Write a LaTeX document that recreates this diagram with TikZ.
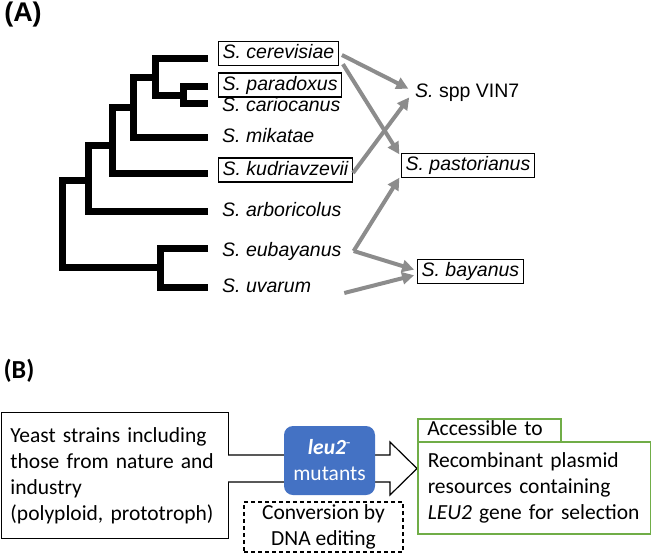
\documentclass[tikz,border=0pt]{standalone}
\usepackage{fontspec}
\setmainfont{Liberation Sans}
\newfontfamily\carfont{Carlito}
\usetikzlibrary{arrows.meta}
\definecolor{arrgray}{RGB}{140,140,140}
\definecolor{bluebox}{RGB}{68,114,196}
\definecolor{greenbox}{RGB}{112,173,71}
\begin{document}
\begin{tikzpicture}[x=1pt,y=-1pt,
  tree/.style={line width=7pt, line join=miter, line cap=butt},
  sp/.style={anchor=west, font=\fontsize{19.5}{22}\selectfont\itshape, inner xsep=4pt, inner ysep=2.5pt, text height=14.5pt, text depth=4.5pt},
  boxed/.style={draw, line width=1.3pt},
  garr/.style={draw=arrgray, line width=4pt, -{Triangle[length=12pt,width=12pt]}, shorten >=3pt},
  btxt/.style={font=\carfont\fontsize{21.5}{26}\selectfont},
  bbox/.style={draw, line width=1.3pt},
  gbox/.style={draw=greenbox, line width=1.5pt},
]
\useasboundingbox (0,0) rectangle (651,555);

% panel labels
\node[font=\bfseries\fontsize{27}{30}\selectfont, inner sep=0] (labA) at (23,15) {(A)};
\node[font=\carfont\bfseries\fontsize{26}{30}\selectfont, inner sep=0] (labB) at (19,371) {(B)};

% tree
\draw[tree] (208,86) -- (183,86) -- (183,103) -- (208,103);
\draw[tree] (208,58) -- (155,58) -- (155,95) -- (183,95);
\draw[tree] (208,137) -- (133,137) -- (133,77) -- (155,77);
\draw[tree] (208,173) -- (112,173) -- (112,107) -- (133,107);
\draw[tree] (208,211) -- (88,211) -- (88,145) -- (112,145);
\draw[tree] (208,248) -- (160,248) -- (160,287) -- (208,287);
\draw[tree] (88,180) -- (62,180) -- (62,267) -- (160,267);

% species
\node[sp, boxed] (cer) at (218,53.5) {S. cerevisiae};
\node[sp, boxed] (par) at (218,85) {S. paradoxus};
\node[sp] (car) at (218,106) {S. cariocanus};
\node[sp] (mik) at (218,137) {S. mikatae};
\node[sp, boxed] (kud) at (218,170) {S. kudriavzevii};
\node[sp] (arb) at (218,211) {S. arboricolus};
\node[sp] (eub) at (218,251) {S. eubayanus};
\node[sp] (uva) at (218,287) {S. uvarum};
\node[sp] (vin) at (411,92) {S. {\upshape spp VIN7}};
\node[sp, boxed] (pas) at (401,165.5) {S. pastorianus};
\node[sp, boxed] (bay) at (417,271.5) {S. bayanus};

% hybrid arrows
\draw[garr] ([xshift=3pt,yshift=-1.5pt]cer.east) -- ([yshift=2pt]vin.west);
\draw[garr] ([xshift=4pt,yshift=2pt]cer.south east) -- ([yshift=-4pt]pas.north west);
\draw[garr] ([yshift=-3pt]kud.east) -- ([yshift=-3pt]vin.west);
\draw[garr] ([xshift=8pt]eub.east) -- ([yshift=3pt]pas.south west);
\draw[garr] ([xshift=8pt]eub.east) -- ([yshift=1pt]bay.west);
\draw[garr] ([xshift=29pt,yshift=-6pt]uva.east) -- ([yshift=-3pt]bay.west);

% panel B
\node[bbox, btxt, anchor=north west, minimum width=227pt, minimum height=126pt, text width=209pt, inner xsep=9pt, align=left] (lbox) at (0.8,412)
  {Yeast strains including\\those from nature and\\industry\\(polyploid, prototroph)};

\draw[line width=1.2pt, fill=white, line join=miter] (228,455) -- (390,455) -- (390,442) -- (417,468.5) -- (390,495) -- (390,482) -- (228,482);

\node[fill=bluebox, rounded corners=9pt, minimum width=91pt, minimum height=69pt, text=white, btxt, align=center, inner sep=0] (mut) at (329.5,460.5)
  {\textbf{\textit{leu2}}\textsuperscript{-}\\mutants};

\node[bbox, dash pattern=on 4pt off 3pt, minimum width=159pt, minimum height=50pt, btxt, align=center, inner sep=0] (conv) at (323.5,527)
  {Conversion by\\DNA editing};

\node[gbox, btxt, anchor=north west, minimum width=143pt, minimum height=23pt, text width=124pt, inner xsep=9.5pt, inner ysep=0pt, text height=15pt, text depth=5pt, align=left] (acc) at (417,418) {Accessible to};
\node[gbox, btxt, anchor=north west, minimum width=233pt, minimum height=92pt, text width=213pt, inner xsep=10pt, align=left] (res) at (417,441)
  {Recombinant plasmid\\resources containing\\\textit{LEU2} gene for selection};
\end{tikzpicture}
\end{document}
